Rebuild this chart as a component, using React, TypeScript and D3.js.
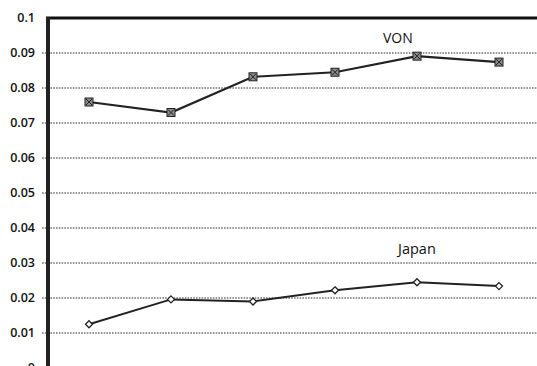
import React from "react";
import * as d3 from "d3";

// Six consecutive periods (no axis labels shown on the category axis)
const periods = ["p1", "p2", "p3", "p4", "p5", "p6"];
const vonValues = [0.076, 0.073, 0.0832, 0.0845, 0.0891, 0.0874];
const japanValues = [0.0125, 0.0196, 0.019, 0.0222, 0.0245, 0.0234];
const yTicks = [0, 0.01, 0.02, 0.03, 0.04, 0.05, 0.06, 0.07, 0.08, 0.09, 0.1];
const tickLabels = ["0", "0.01", "0.02", "0.03", "0.04", "0.05", "0.06", "0.07", "0.08", "0.09", "0.1"];
const seriesNames = ["VON", "Japan"];

const W = 537;
const H = 366;
const left = 48;
const right = 540;
const top = 18;
const bottom = 368;

export default function App() {
  const x = d3.scaleBand<string>().domain(periods).range([left, right]);
  const y = d3.scaleLinear().domain([0, 0.1]).range([bottom, top]);
  const cx = (p: string) => (x(p) ?? 0) + x.bandwidth() / 2;

  const line = d3
    .line<number>()
    .x((_, i) => cx(periods[i]))
    .y((v) => y(v));

  const font = "'Open Sans', 'Liberation Sans', sans-serif";

  return (
    <svg
      width={W}
      height={H}
      style={{ position: "absolute", left: 0, top: 0, background: "#fff" }}
    >
      <rect x={0} y={0} width={W} height={H} fill="#fff" />
      {/* horizontal gridlines */}
      {yTicks.map((t, i) =>
        t === 0 || t === 0.1 ? null : (
          <line
            key={"g" + i}
            x1={left - 6}
            x2={W}
            y1={y(t)}
            y2={y(t)}
            stroke="#2e2e2e"
            strokeWidth={1}
            strokeDasharray="1.6 1.2"
          />
        )
      )}
      {/* tick labels */}
      {yTicks.map((t, i) => (
        <text
          key={"t" + i}
          x={35}
          y={y(t)}
          dy="0.35em"
          textAnchor="end"
          fontFamily={font}
          fontSize={12.5}
          fontWeight={600}
          fill="#111"
        >
          {tickLabels[i]}
        </text>
      ))}
      {/* frame: top border, left axis, bottom axis */}
      <line x1={left - 2} x2={W} y1={top} y2={top} stroke="#111" strokeWidth={3} />
      <line x1={left} x2={left} y1={top - 1} y2={H} stroke="#222" strokeWidth={4} />
      <line x1={left - 6} x2={W} y1={bottom} y2={bottom} stroke="#666" strokeWidth={4} strokeDasharray="3 2" />

      {/* VON series */}
      <path d={line(vonValues) ?? ""} fill="none" stroke="#222" strokeWidth={2.2} />
      {vonValues.map((v, i) => {
        const px = cx(periods[i]);
        const py = y(v);
        return (
          <g key={"v" + i}>
            <rect x={px - 4} y={py - 4} width={8} height={8} fill="#8a8a8a" stroke="#222" strokeWidth={1} />
            <path
              d={`M${px - 3},${py - 3}L${px + 3},${py + 3}M${px + 3},${py - 3}L${px - 3},${py + 3}`}
              stroke="#222"
              strokeWidth={1}
            />
          </g>
        );
      })}

      {/* Japan series */}
      <path d={line(japanValues) ?? ""} fill="none" stroke="#222" strokeWidth={2} />
      {japanValues.map((v, i) => {
        const px = cx(periods[i]);
        const py = y(v);
        return (
          <path
            key={"j" + i}
            d={`M${px},${py - 3.5}L${px + 3.5},${py}L${px},${py + 3.5}L${px - 3.5},${py}Z`}
            fill="#fff"
            stroke="#222"
            strokeWidth={1.3}
          />
        );
      })}

      {/* series labels */}
      <text x={383} y={43} fontFamily={font} fontSize={14} fontWeight={500} fill="#111">
        {seriesNames[0]}
      </text>
      <text x={398} y={254} fontFamily={font} fontSize={14.5} fontWeight={500} fill="#111">
        {seriesNames[1]}
      </text>
    </svg>
  );
}
